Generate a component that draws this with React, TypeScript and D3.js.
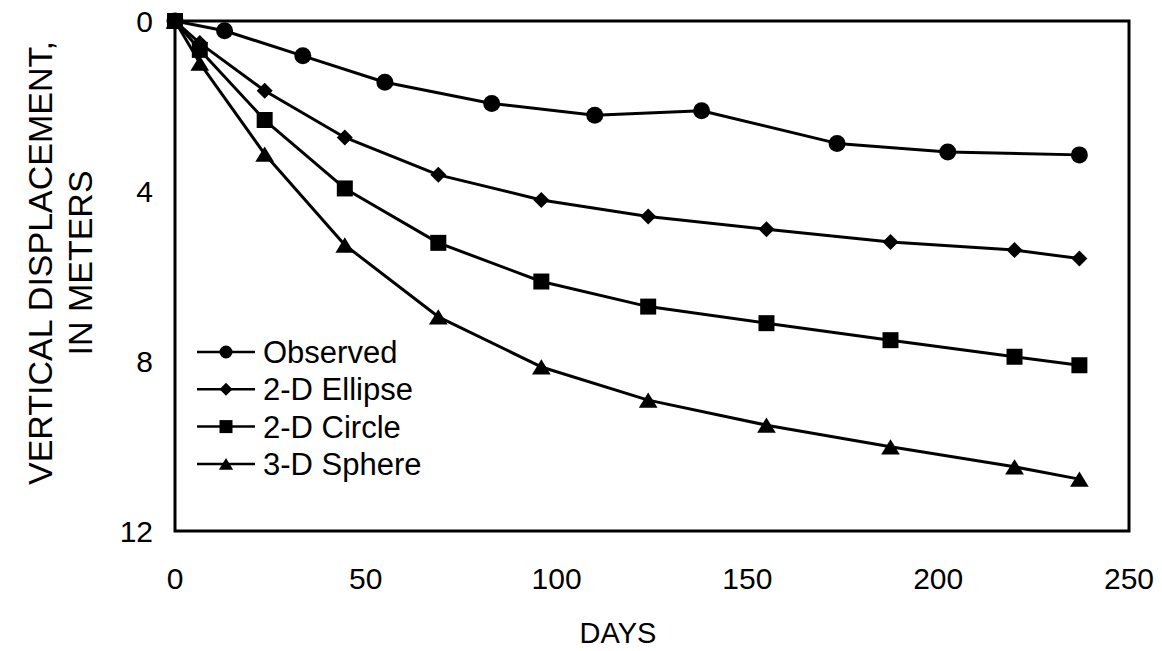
import React from 'react';
import * as d3 from 'd3';

const observedDays = [0, 13, 33.5, 55, 83, 110, 138, 173.5, 202.5, 237];
const observedDisp = [0, 0.23, 0.82, 1.44, 1.94, 2.22, 2.11, 2.88, 3.08, 3.15];
const modelDays = [0, 6.5, 23.5, 44.5, 69, 96, 124, 155, 187.5, 220, 237];
const ellipseDisp = [0, 0.52, 1.64, 2.74, 3.62, 4.21, 4.6, 4.9, 5.2, 5.39, 5.59];
const circleDisp = [0, 0.68, 2.33, 3.94, 5.22, 6.13, 6.72, 7.11, 7.51, 7.9, 8.1];
const sphereDisp = [0, 0.99, 3.13, 5.27, 6.96, 8.14, 8.92, 9.51, 10.02, 10.49, 10.78];
const seriesNames = ['Observed', '2-D Ellipse', '2-D Circle', '3-D Sphere'];
const seriesShapes = ['circle', 'diamond', 'square', 'triangle'];
const xTicks = [0, 50, 100, 150, 200, 250];
const yTicks = [0, 4, 8, 12];

const W = 1162;
const H = 651;
const M = { left: 175, right: 1129, top: 21, bottom: 531 };
const FONT = '"Liberation Sans", Arial, sans-serif';

function markerPath(shape: string, cx: number, cy: number, s: number): string {
  const p = d3.path();
  if (shape === 'circle') {
    p.moveTo(cx + s, cy);
    p.arc(cx, cy, s, 0, Math.PI * 2);
  } else if (shape === 'diamond') {
    p.moveTo(cx, cy - s);
    p.lineTo(cx + s, cy);
    p.lineTo(cx, cy + s);
    p.lineTo(cx - s, cy);
    p.closePath();
  } else if (shape === 'square') {
    p.rect(cx - s, cy - s, 2 * s, 2 * s);
  } else {
    const h = s * 1.8;
    p.moveTo(cx, cy - h / 2);
    p.lineTo(cx + s * 1.1, cy + h / 2);
    p.lineTo(cx - s * 1.1, cy + h / 2);
    p.closePath();
  }
  return p.toString();
}

export default function App() {
  const x = d3.scaleLinear().domain([0, 250]).range([M.left, M.right]);
  const y = d3.scaleLinear().domain([0, 12]).range([M.top, M.bottom]);

  const series = [
    { name: seriesNames[0], shape: seriesShapes[0], days: observedDays, vals: observedDisp, size: 8.5 },
    { name: seriesNames[1], shape: seriesShapes[1], days: modelDays, vals: ellipseDisp, size: 8 },
    { name: seriesNames[2], shape: seriesShapes[2], days: modelDays, vals: circleDisp, size: 8 },
    { name: seriesNames[3], shape: seriesShapes[3], days: modelDays, vals: sphereDisp, size: 8.5 },
  ];

  const line = d3
    .line<[number, number]>()
    .x((d) => x(d[0]))
    .y((d) => y(d[1]));

  const tickFs = 30;
  const legendY0 = 352;
  const legendDy = 37.3;

  return (
    <svg
      width={W}
      height={H}
      style={{ position: 'fixed', left: 0, top: 0, background: '#fff' }}
      fontFamily={FONT}
    >
      <rect x={0} y={0} width={W} height={H} fill="#fff" />
      {series.map((s) => (
        <path
          key={s.name + '-line'}
          d={line(s.days.map((d, i) => [d, s.vals[i]] as [number, number])) || ''}
          fill="none"
          stroke="#000"
          strokeWidth={3}
          strokeLinejoin="round"
        />
      ))}
      {series.map((s) =>
        s.days.map((d, i) => (
          <path key={s.name + i} d={markerPath(s.shape, x(d), y(s.vals[i]), s.size)} fill="#000" />
        ))
      )}
      <rect
        x={M.left}
        y={M.top}
        width={M.right - M.left}
        height={M.bottom - M.top}
        fill="none"
        stroke="#000"
        strokeWidth={3}
      />
      {yTicks.map((t) => (
        <text key={'y' + t} x={153} y={y(t) + tickFs * 0.358} textAnchor="end" fontSize={tickFs} fill="#000">
          {t}
        </text>
      ))}
      {xTicks.map((t) => (
        <text key={'x' + t} x={x(t)} y={578 + tickFs * 0.358} textAnchor="middle" fontSize={tickFs} fill="#000">
          {t}
        </text>
      ))}
      <text x={618} y={643} textAnchor="middle" fontSize={29} fill="#000">
        DAYS
      </text>
      <g transform="translate(52,263) rotate(-90)">
        <text x={0} y={0} textAnchor="middle" fontSize={34} fill="#000">
          VERTICAL DISPLACEMENT,
        </text>
        <text x={0} y={40} textAnchor="middle" fontSize={34} fill="#000">
          IN METERS
        </text>
      </g>
      {series.map((s, i) => {
        const ly = legendY0 + i * legendDy;
        return (
          <g key={s.name + '-leg'}>
            <line x1={197} x2={255} y1={ly} y2={ly} stroke="#000" strokeWidth={2.5} />
            <path d={markerPath(s.shape, 226, ly, 6.5)} fill="#000" />
            <text x={263} y={ly + 31 * 0.358} fontSize={31} fill="#000">
              {s.name}
            </text>
          </g>
        );
      })}
    </svg>
  );
}
